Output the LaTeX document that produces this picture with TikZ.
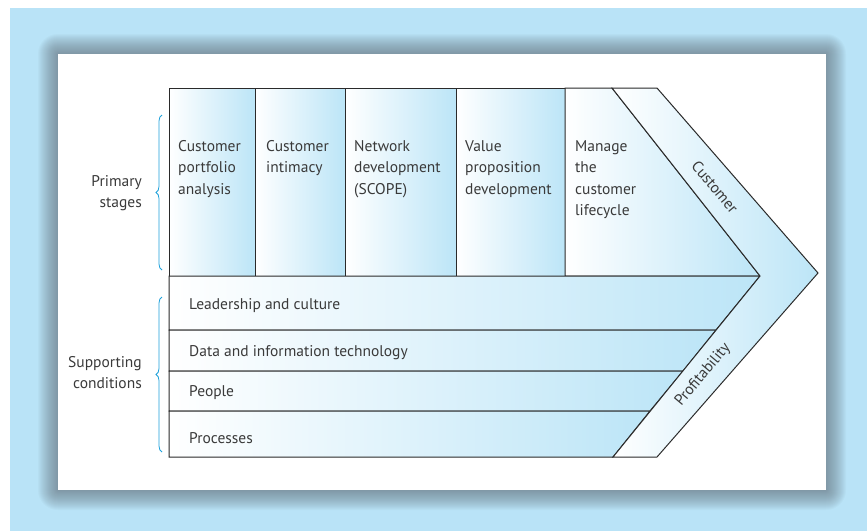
\documentclass[tikz,border=0pt]{standalone}
\usepackage{fontspec}
\setmainfont{PT Sans}
\usetikzlibrary{decorations.pathreplacing,calc}
\definecolor{bgblue}{HTML}{B9E3F7}
\definecolor{gblue}{HTML}{BCE5F7}
\definecolor{brk}{HTML}{1DA1DB}
\definecolor{txt}{HTML}{3A3A3A}
\definecolor{ln}{HTML}{2A2A2A}
\definecolor{shd}{HTML}{5F6A73}
\begin{document}
\begin{tikzpicture}[x=1pt,y=-1pt,
  cell/.style={draw=ln, line width=1pt, line join=miter, left color=white, right color=gblue},
  lab/.style={font=\fontsize{15.5}{21.5}\selectfont, text=txt, align=left, anchor=base west, inner sep=0pt},
  side/.style={font=\fontsize{15.5}{21}\selectfont, text=txt, align=right, anchor=base east, inner sep=0pt},
  band/.style={font=\fontsize{15.5}{18}\selectfont, text=txt, inner sep=0pt},
  brace/.style={draw=brk, line width=0.8pt, decorate, decoration={brace, amplitude=6pt}}]
\useasboundingbox (0,0) rectangle (867,531);
\fill[white] (0,0) rectangle (867,531);
\fill[bgblue] (10,8) rectangle (867,531);
% shadow
\foreach \i in {1,...,20}{
  \fill[shd, opacity=0.04, rounded corners=\i pt] ($(58,54)+(-\i,-\i)$) rectangle ($(826,490)+(\i,\i)$);
}
\fill[white] (58,54) rectangle (826,490);
% primary columns
\path[cell] (169,88) rectangle (255,276);
\path[cell] (255,88) rectangle (345,276);
\path[cell] (345,88) rectangle (456,276);
\path[cell] (456,88) rectangle (565,276);
\path[cell] (565,88) -- (612,88) -- (760,276) -- (565,276) -- cycle;
% supporting rows
\path[cell] (169,276) -- (760,276) -- (716,330) -- (169,330) -- cycle;
\path[cell] (169,330) -- (716,330) -- (683,371) -- (169,371) -- cycle;
\path[cell] (169,371) -- (683,371) -- (650,411) -- (169,411) -- cycle;
\path[cell] (169,411) -- (650,411) -- (613,457) -- (169,457) -- cycle;
% chevron band
\path[cell] (612,88) -- (657,88) -- (818,273) -- (657,457) -- (613,457) -- (760,276) -- cycle;
% texts (anchor = baseline of last line)
\node[lab] (p1) at (178,194) {Customer\\portfolio\\analysis};
\node[lab] (p2) at (266,172.5) {Customer\\intimacy};
\node[lab] (p3) at (354,194) {Network\\development\\(SCOPE)};
\node[lab] (p4) at (465,194) {Value\\proposition\\development};
\node[lab] (p5) at (575,215.5) {Manage\\the\\customer\\lifecycle};
\node[lab] (s1) at (189,309) {Leadership and culture};
\node[lab] (s2) at (189,356) {Data and information technology};
\node[lab] (s3) at (189,396) {People};
\node[lab] (s4) at (189,443) {Processes};
\node[band, rotate=-50] (cu) at (715,187) {Customer};
\node[band, rotate=50] (pr) at (703,375) {Profitability};
\node[side] (ps) at (142,207) {Primary\\stages};
\node[side] (sc) at (142,388) {Supporting\\conditions};
% braces
\draw[brace] (162,270) -- (162,115);
\draw[brace] (162,452) -- (162,297);
\end{tikzpicture}
\end{document}
